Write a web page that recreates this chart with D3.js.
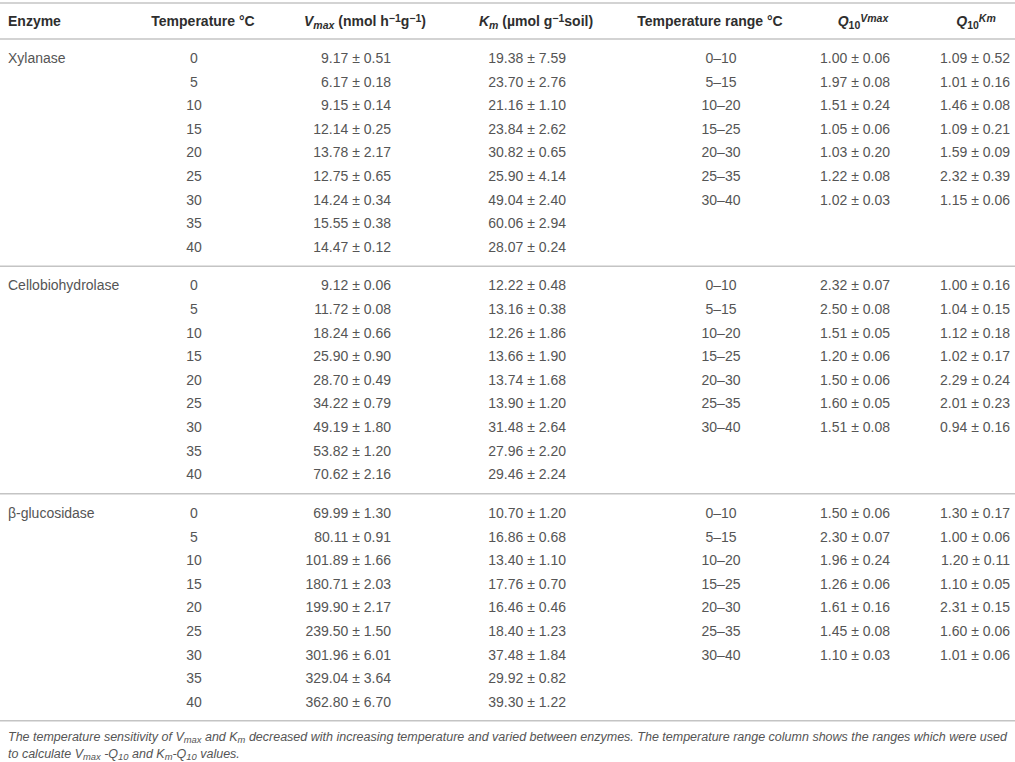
<!DOCTYPE html>
<html>
<head>
<meta charset="utf-8">
<script src="https://cdn.jsdelivr.net/npm/d3@7"></script>
<style>
  body { margin: 0; background: #fff; }
  svg { font-family: "Liberation Sans", Arial, sans-serif; }
</style>
</head>
<body>
<svg width="1015" height="762"></svg>
<script>
const enzymes = ['Xylanase', 'Cellobiohydrolase', 'β-glucosidase'];
const temperatures = [0, 5, 10, 15, 20, 25, 30, 35, 40];
const tempRanges = ['0–10', '5–15', '10–20', '15–25', '20–30', '25–35', '30–40'];

// [mean, sd] per temperature
const vmaxXyl = [[9.17, 0.51], [6.17, 0.18], [9.15, 0.14], [12.14, 0.25], [13.78, 2.17], [12.75, 0.65], [14.24, 0.34], [15.55, 0.38], [14.47, 0.12]];
const kmXyl = [[19.38, 7.59], [23.70, 2.76], [21.16, 1.10], [23.84, 2.62], [30.82, 0.65], [25.90, 4.14], [49.04, 2.40], [60.06, 2.94], [28.07, 0.24]];
const q10VmaxXyl = [[1.00, 0.06], [1.97, 0.08], [1.51, 0.24], [1.05, 0.06], [1.03, 0.20], [1.22, 0.08], [1.02, 0.03]];
const q10KmXyl = [[1.09, 0.52], [1.01, 0.16], [1.46, 0.08], [1.09, 0.21], [1.59, 0.09], [2.32, 0.39], [1.15, 0.06]];

const vmaxCbh = [[9.12, 0.06], [11.72, 0.08], [18.24, 0.66], [25.90, 0.90], [28.70, 0.49], [34.22, 0.79], [49.19, 1.80], [53.82, 1.20], [70.62, 2.16]];
const kmCbh = [[12.22, 0.48], [13.16, 0.38], [12.26, 1.86], [13.66, 1.90], [13.74, 1.68], [13.90, 1.20], [31.48, 2.64], [27.96, 2.20], [29.46, 2.24]];
const q10VmaxCbh = [[2.32, 0.07], [2.50, 0.08], [1.51, 0.05], [1.20, 0.06], [1.50, 0.06], [1.60, 0.05], [1.51, 0.08]];
const q10KmCbh = [[1.00, 0.16], [1.04, 0.15], [1.12, 0.18], [1.02, 0.17], [2.29, 0.24], [2.01, 0.23], [0.94, 0.16]];

const vmaxBg = [[69.99, 1.30], [80.11, 0.91], [101.89, 1.66], [180.71, 2.03], [199.90, 2.17], [239.50, 1.50], [301.96, 6.01], [329.04, 3.64], [362.80, 6.70]];
const kmBg = [[10.70, 1.20], [16.86, 0.68], [13.40, 1.10], [17.76, 0.70], [16.46, 0.46], [18.40, 1.23], [37.48, 1.84], [29.92, 0.82], [39.30, 1.22]];
const q10VmaxBg = [[1.50, 0.06], [2.30, 0.07], [1.96, 0.24], [1.26, 0.06], [1.61, 0.16], [1.45, 0.08], [1.10, 0.03]];
const q10KmBg = [[1.30, 0.17], [1.00, 0.06], [1.20, 0.11], [1.10, 0.05], [2.31, 0.15], [1.60, 0.06], [1.01, 0.06]];

const groups = [
    { vmax: vmaxXyl, km: kmXyl, q10v: q10VmaxXyl, q10k: q10KmXyl },
    { vmax: vmaxCbh, km: kmCbh, q10v: q10VmaxCbh, q10k: q10KmCbh },
    { vmax: vmaxBg, km: kmBg, q10v: q10VmaxBg, q10k: q10KmBg }
];

const svg = d3.select('svg');
const width = 1015;
const bodyColor = '#555';
const headColor = '#2e2e2e';
const ruleColor = '#c4c4c4';

const fmt = d3.format('.2f');
const pm = d => `${fmt(d[0])} ± ${fmt(d[1])}`;

// vertical layout: group offset + row within group
const rowY = d3.scaleLinear().domain([0, temperatures.length - 1]).range([58, 246.8]);
const groupY = d3.scaleLinear().domain([0, 1]).range([0, 227.5]);
const y = (g, r) => groupY(g) + rowY(r);

const col = {
    enzyme: { x: 8, anchor: 'start' },
    temp: { x: 194, anchor: 'middle', hx: 203 },
    vmax: { x: 391, anchor: 'end', hx: 365 },
    km: { x: 566, anchor: 'end', hx: 536 },
    range: { x: 721, anchor: 'middle', hx: 710 },
    q10v: { x: 890, anchor: 'end', hx: 863 },
    q10k: { x: 1010, anchor: 'end', hx: 976 }
};

// rules
const rules = [3, 39, (y(0, 8) + y(1, 0)) / 2, (y(1, 8) + y(2, 0)) / 2, y(2, 8) + 19];
svg.selectAll('line.rule').data(rules)
    .enter().append('line')
        .attr('class', 'rule')
        .attr('x1', 0).attr('x2', width)
        .attr('y1', d => d).attr('y2', d => d)
        .attr('stroke', ruleColor)
        .attr('stroke-width', 1.5);

// header
const head = svg.append('g')
    .attr('font-size', 14)
    .attr('font-weight', 'bold')
    .attr('fill', headColor);

const addRich = (sel, parts) => {
    parts.forEach(p => {
        const t = sel.append('tspan').text(p.t);
        if (p.i) t.attr('font-style', 'italic');
        if (p.sub) t.attr('baseline-shift', '-25%').attr('font-size', '75%');
        if (p.sup) t.attr('baseline-shift', '40%').attr('font-size', '75%');
    });
};

const headY = 21;
const headers = [
    { x: col.enzyme.x, anchor: 'start', parts: [{ t: 'Enzyme' }] },
    { x: col.temp.hx, parts: [{ t: 'Temperature °C' }] },
    { x: col.vmax.hx, parts: [{ t: 'V', i: 1 }, { t: 'max', i: 1, sub: 1 }, { t: ' (nmol h' }, { t: '−1', sup: 1 }, { t: 'g' }, { t: '−1', sup: 1 }, { t: ')' }] },
    { x: col.km.hx, parts: [{ t: 'K', i: 1 }, { t: 'm', i: 1, sub: 1 }, { t: ' (µmol g' }, { t: '−1', sup: 1 }, { t: 'soil)' }] },
    { x: col.range.hx, parts: [{ t: 'Temperature range °C' }] },
    { x: col.q10v.hx, parts: [{ t: 'Q', i: 1 }, { t: '10', sub: 1 }, { t: 'Vmax', i: 1, sup: 1 }] },
    { x: col.q10k.hx, parts: [{ t: 'Q', i: 1 }, { t: '10', sub: 1 }, { t: 'Km', i: 1, sup: 1 }] }
];
headers.forEach(h => {
    const t = head.append('text')
        .attr('x', h.x)
        .attr('y', headY)
        .attr('dy', '0.35em')
        .attr('text-anchor', h.anchor || 'middle');
    addRich(t, h.parts);
});

// body
const body = svg.append('g')
    .attr('font-size', 14)
    .attr('fill', bodyColor);

const cell = (c, yy, text) => body.append('text')
    .attr('x', c.x)
    .attr('y', yy)
    .attr('dy', '0.35em')
    .attr('text-anchor', c.anchor)
    .text(text);

groups.forEach((grp, g) => {
    cell(col.enzyme, y(g, 0), enzymes[g]);
    temperatures.forEach((tc, r) => {
        cell(col.temp, y(g, r), tc);
        cell(col.vmax, y(g, r), pm(grp.vmax[r]));
        cell(col.km, y(g, r), pm(grp.km[r]));
    });
    tempRanges.forEach((tr, r) => {
        cell(col.range, y(g, r), tr);
        cell(col.q10v, y(g, r), pm(grp.q10v[r]));
        cell(col.q10k, y(g, r), pm(grp.q10k[r]));
    });
});

// caption
const cap = svg.append('g')
    .attr('font-size', 12.5)
    .attr('font-style', 'italic')
    .attr('fill', bodyColor);

const capLines = [
    [{ t: 'The temperature sensitivity of V' }, { t: 'max', sub: 1 }, { t: ' and K' }, { t: 'm', sub: 1 },
     { t: ' decreased with increasing temperature and varied between enzymes. The temperature range column shows the ranges which were used' }],
    [{ t: 'to calculate V' }, { t: 'max', sub: 1 }, { t: ' -Q' }, { t: '10', sub: 1 }, { t: ' and K' }, { t: 'm', sub: 1 },
     { t: '-Q' }, { t: '10', sub: 1 }, { t: ' values.' }]
];
capLines.forEach((parts, i) => {
    const t = cap.append('text')
        .attr('x', 8)
        .attr('y', 737 + i * 17)
        .attr('dy', '0.35em');
    addRich(t, parts);
});
</script>
</body>
</html>
